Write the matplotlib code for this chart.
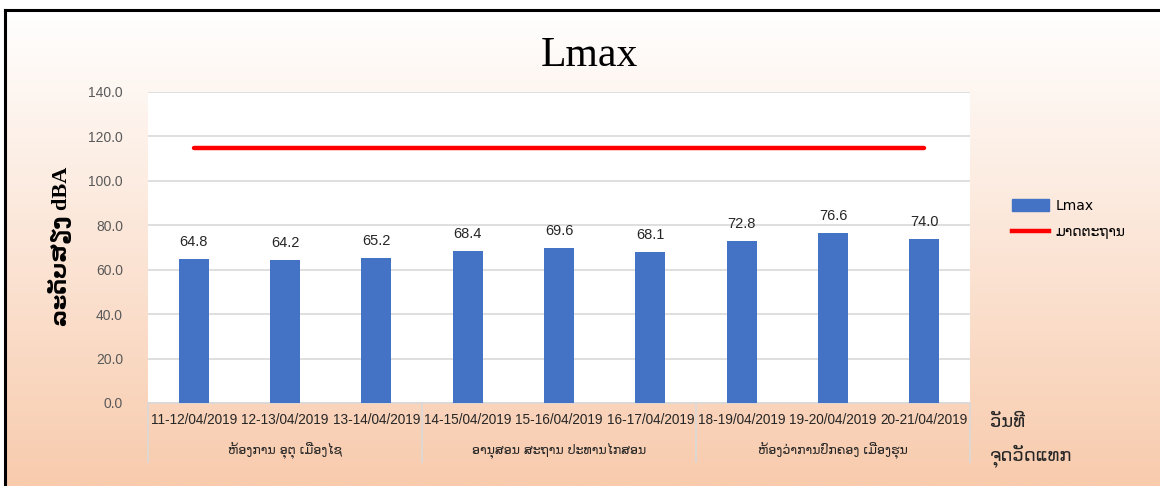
import numpy as np
import matplotlib.pyplot as plt
from matplotlib.transforms import blended_transform_factory
from matplotlib.lines import Line2D
from matplotlib.patches import Patch

# measurement periods and Lmax values (dBA)
periods = ["11-12/04/2019", "12-13/04/2019", "13-14/04/2019",
           "14-15/04/2019", "15-16/04/2019", "16-17/04/2019",
           "18-19/04/2019", "19-20/04/2019", "20-21/04/2019"]
lmax = [64.8, 64.2, 65.2, 68.4, 69.6, 68.1, 72.8, 76.6, 74.0]
standard = [115] * len(periods)
sites = ["ຫ້ອງການ ອຸຕຸ ເມືອງໄຊ", "ອານຸສອນ ສະຖານ ປະທານໄກສອນ", "ຫ້ອງວ່າການປົກຄອງ ເມືອງຮຸນ"]

LAO = ["DejaVu Sans"]
SANS = ["Liberation Sans", "DejaVu Sans"]

fig = plt.figure(figsize=(11.6, 4.86), dpi=100)
fig.patch.set_facecolor("white")

# gradient background behind the chart
bg = fig.add_axes([5 / 1160, 0, 1 - 5 / 1160, 475 / 486], zorder=-10)
grad = np.linspace(0, 1, 256)[:, None]
top = np.array([1.0, 1.0, 1.0])
bottom = np.array([248, 203, 173]) / 255
img = top + (bottom - top) * grad[..., None]
bg.imshow(np.repeat(img, 2, axis=1), aspect="auto", extent=[0, 1, 0, 1], origin="upper")
bg.set_axis_off()
fig.add_artist(Line2D([5 / 1160, 1], [1 - 10 / 486] * 2, color="black", lw=2.2))
fig.add_artist(Line2D([5 / 1160] * 2, [0, 1 - 10 / 486], color="black", lw=2.2))

ax = fig.add_axes([148 / 1160, 1 - 403 / 486, 822 / 1160, 311 / 486])
ax.set_facecolor("white")
x = np.arange(len(periods))
bars = ax.bar(x, lmax, width=0.33, color="#4472C4", zorder=3)
ax.plot(x, standard, color="#FF0000", lw=3.2, solid_capstyle="round", zorder=4)

for xi, v in zip(x, lmax):
    ax.text(xi, v + 4.5, f"{v:.1f}", ha="center", va="bottom", fontsize=10.5,
            color="#262626", family=SANS)

ax.set_xlim(-0.5, len(periods) - 0.5)
ax.set_ylim(0, 140)
ax.set_yticks(np.arange(0, 141, 20))
ax.set_yticklabels([f"{v:.1f}" for v in np.arange(0, 141, 20)], family=SANS,
                   fontsize=10, color="#595959")
ax.yaxis.grid(True, color="#D9D9D9", lw=1.2)
ax.set_axisbelow(True)
ax.set_xticks(x)
ax.set_xticklabels(periods, family=SANS, fontsize=9.8, color="#262626")
ax.tick_params(axis="both", length=0)
ax.tick_params(axis="x", pad=7)
ax.tick_params(axis="y", pad=18)
for side in ["top", "right", "left"]:
    ax.spines[side].set_visible(False)
ax.spines["bottom"].set_color("#D9D9D9")
ax.spines["bottom"].set_linewidth(1.2)

# site group separators and labels under the dates
trans = blended_transform_factory(ax.transData, ax.transAxes)
for b in [-0.5, 2.5, 5.5, 8.5]:
    ax.add_artist(Line2D([b, b], [0, -0.19], transform=trans, color="#D9D9D9",
                         lw=1.2, clip_on=False))
for i, name in enumerate(sites):
    ax.text(3 * i + 1, -0.152, name, transform=trans, ha="center", va="center",
            fontsize=9, family=LAO, color="#262626")

fig.text(0.508, 0.885, "Lmax", ha="center", va="center", fontsize=30,
         family=["Liberation Serif", "DejaVu Serif"])
fig.text(60 / 1160, 1 - 246 / 486, "ລະດັບສຽງ dBA", rotation=90, ha="center",
         va="center", fontsize=16, fontweight="bold",
         family=["Liberation Serif", "DejaVu Sans"])
fig.text(990 / 1160, 1 - 422 / 486, "ວັນທີ", ha="left", va="center", fontsize=13,
         family=LAO, color="#262626")
fig.text(990 / 1160, 1 - 456 / 486, "ຈຸດວັດແທກ", ha="left", va="center",
         fontsize=13, family=LAO, color="#262626")

handles = [Patch(color="#4472C4"), Line2D([], [], color="#FF0000", lw=3.2)]
leg = fig.legend(handles, ["Lmax", "ມາດຕະຖານ"], loc="center left",
                 bbox_to_anchor=(1000 / 1160, 1 - 219 / 486), frameon=False,
                 prop={"family": LAO, "size": 10}, handlelength=2.6,
                 handleheight=0.9, handletextpad=0.5, labelspacing=0.9)

fig.savefig("out.png", dpi=100)
